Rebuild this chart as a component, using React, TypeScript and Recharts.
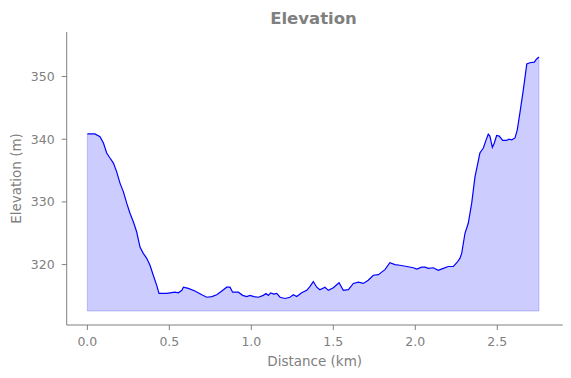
import React from 'react';
import { ComposedChart, Area, XAxis, YAxis, ReferenceLine } from 'recharts';

const distanceKm = [
  0.0, 0.046, 0.077, 0.098, 0.118, 0.138, 0.159, 0.179, 0.199, 0.22, 0.24, 0.26, 0.281, 0.301, 0.321,
  0.341, 0.362, 0.382, 0.402, 0.423, 0.437, 0.484, 0.504, 0.534, 0.555, 0.576, 0.586, 0.616, 0.656,
  0.698, 0.728, 0.759, 0.789, 0.82, 0.85, 0.87, 0.886, 0.921, 0.947, 0.972, 0.992, 1.016, 1.043,
  1.073, 1.09, 1.104, 1.118, 1.138, 1.155, 1.175, 1.205, 1.236, 1.256, 1.277, 1.307, 1.338, 1.357,
  1.378, 1.399, 1.418, 1.449, 1.47, 1.5, 1.535, 1.561, 1.592, 1.622, 1.653, 1.683, 1.713, 1.744,
  1.775, 1.795, 1.815, 1.845, 1.876, 1.906, 1.948, 1.988, 2.009, 2.039, 2.059, 2.08, 2.11, 2.14,
  2.171, 2.201, 2.232, 2.253, 2.272, 2.283, 2.303, 2.323, 2.344, 2.364, 2.375, 2.394, 2.415, 2.432,
  2.445, 2.455, 2.47, 2.482, 2.496, 2.512, 2.533, 2.557, 2.571, 2.588, 2.608, 2.622, 2.638, 2.659,
  2.68, 2.699, 2.726, 2.74, 2.754,
];

const elevationM = [
  340.85, 340.85, 340.4, 339.4, 337.8, 337.0, 336.2, 334.8, 333.0, 331.6, 329.8, 328.2, 326.8, 325.2, 322.8,
  321.8, 321.0, 319.9, 318.3, 316.7, 315.4, 315.4, 315.5, 315.6, 315.5, 315.9, 316.4, 316.2, 315.8,
  315.2, 314.8, 314.9, 315.2, 315.8, 316.4, 316.4, 315.6, 315.6, 315.1, 314.9, 315.1, 314.9, 314.8,
  315.1, 315.4, 315.1, 315.5, 315.3, 315.4, 314.8, 314.6, 314.8, 315.2, 314.9, 315.5, 315.9, 316.5,
  317.3, 316.4, 316.0, 316.4, 315.9, 316.3, 317.1, 315.9, 316.0, 317.0, 317.2, 317.0, 317.5, 318.3,
  318.4, 318.8, 319.2, 320.3, 320.0, 319.9, 319.7, 319.5, 319.3, 319.6, 319.6, 319.4, 319.5, 319.1,
  319.4, 319.7, 319.7, 320.3, 321.0, 321.8, 325.0, 326.6, 329.8, 334.0, 335.4, 337.8, 338.6, 339.9,
  340.8, 340.5, 338.7, 339.4, 340.6, 340.5, 339.8, 339.8, 340.0, 339.9, 340.2, 341.5, 344.2, 347.9,
  352.0, 352.2, 352.3, 352.8, 353.1,
];

const xTicks = [0, 0.5, 1.0, 1.5, 2.0, 2.5];
const yTicks = [320, 330, 340, 350];
const fillBase = 312.6;
const xDomain = [-0.126, 2.899];
const yDomain = [310.37, 357.1];

const titleText = 'Elevation';
const xLabelText = 'Distance (km)';
const yLabelText = 'Elevation (m)';

const GRAY = '#808080';
const FONT = 'DejaVu Sans';

const data = distanceKm.map((d, i) => ({ d, e: elevationM[i] }));
const firstX = distanceKm[0];
const lastX = distanceKm[distanceKm.length - 1];

export default function App() {
  return (
    <div style={{ position: 'absolute', left: 0, top: 0, width: 571, height: 378, background: '#fff', fontFamily: FONT }}>
      <ComposedChart
        width={571}
        height={378}
        data={data}
        margin={{ top: 32, right: 8.3, bottom: 11, left: 6.7 }}
      >
        <XAxis
          dataKey="d"
          type="number"
          domain={xDomain}
          ticks={xTicks}
          allowDataOverflow
          tickFormatter={(v: number) => v.toFixed(1)}
          height={42}
          stroke={GRAY}
          tickSize={5}
          tickMargin={7}
          tick={{ fill: GRAY, fontSize: 12.5, fontFamily: FONT }}
          axisLine={{ stroke: GRAY, strokeWidth: 1 }}
          tickLine={{ stroke: GRAY, strokeWidth: 1 }}
        />
        <YAxis
          type="number"
          domain={yDomain}
          ticks={yTicks}
          allowDataOverflow
          width={60}
          stroke={GRAY}
          tickSize={5}
          tickMargin={7}
          tick={{ fill: GRAY, fontSize: 12.5, fontFamily: FONT }}
          axisLine={{ stroke: GRAY, strokeWidth: 1 }}
          tickLine={{ stroke: GRAY, strokeWidth: 1 }}
        />
        <Area
          dataKey="e"
          type="linear"
          baseValue={fillBase}
          fill="#0000ff"
          fillOpacity={0.2}
          stroke="#0000ff"
          strokeWidth={1.2}
          dot={false}
          activeDot={false}
          isAnimationActive={false}
        />
        <ReferenceLine
          segment={[{ x: firstX, y: fillBase }, { x: lastX, y: fillBase }]}
          stroke="#0000ff"
          strokeOpacity={0.2}
          strokeWidth={1}
        />
        <ReferenceLine
          segment={[{ x: lastX, y: fillBase }, { x: lastX, y: elevationM[elevationM.length - 1] }]}
          stroke="#0000ff"
          strokeOpacity={0.2}
          strokeWidth={1}
        />
        <ReferenceLine
          segment={[{ x: firstX, y: fillBase }, { x: firstX, y: elevationM[0] }]}
          stroke="#0000ff"
          strokeOpacity={0.2}
          strokeWidth={1}
        />
      </ComposedChart>
      <svg width={571} height={378} style={{ position: 'absolute', left: 0, top: 0, pointerEvents: 'none' }}>
        <text x={313.5} y={24} textAnchor="middle" fill={GRAY} fontSize={16.5} fontWeight="bold" fontFamily={FONT}>
          {titleText}
        </text>
        <text x={314.7} y={366} textAnchor="middle" fill={GRAY} fontSize={13.5} fontFamily={FONT}>
          {xLabelText}
        </text>
        <text transform="translate(21,178.5) rotate(-90)" x={0} y={0} textAnchor="middle" fill={GRAY} fontSize={13.5} fontFamily={FONT}>
          {yLabelText}
        </text>
      </svg>
    </div>
  );
}
